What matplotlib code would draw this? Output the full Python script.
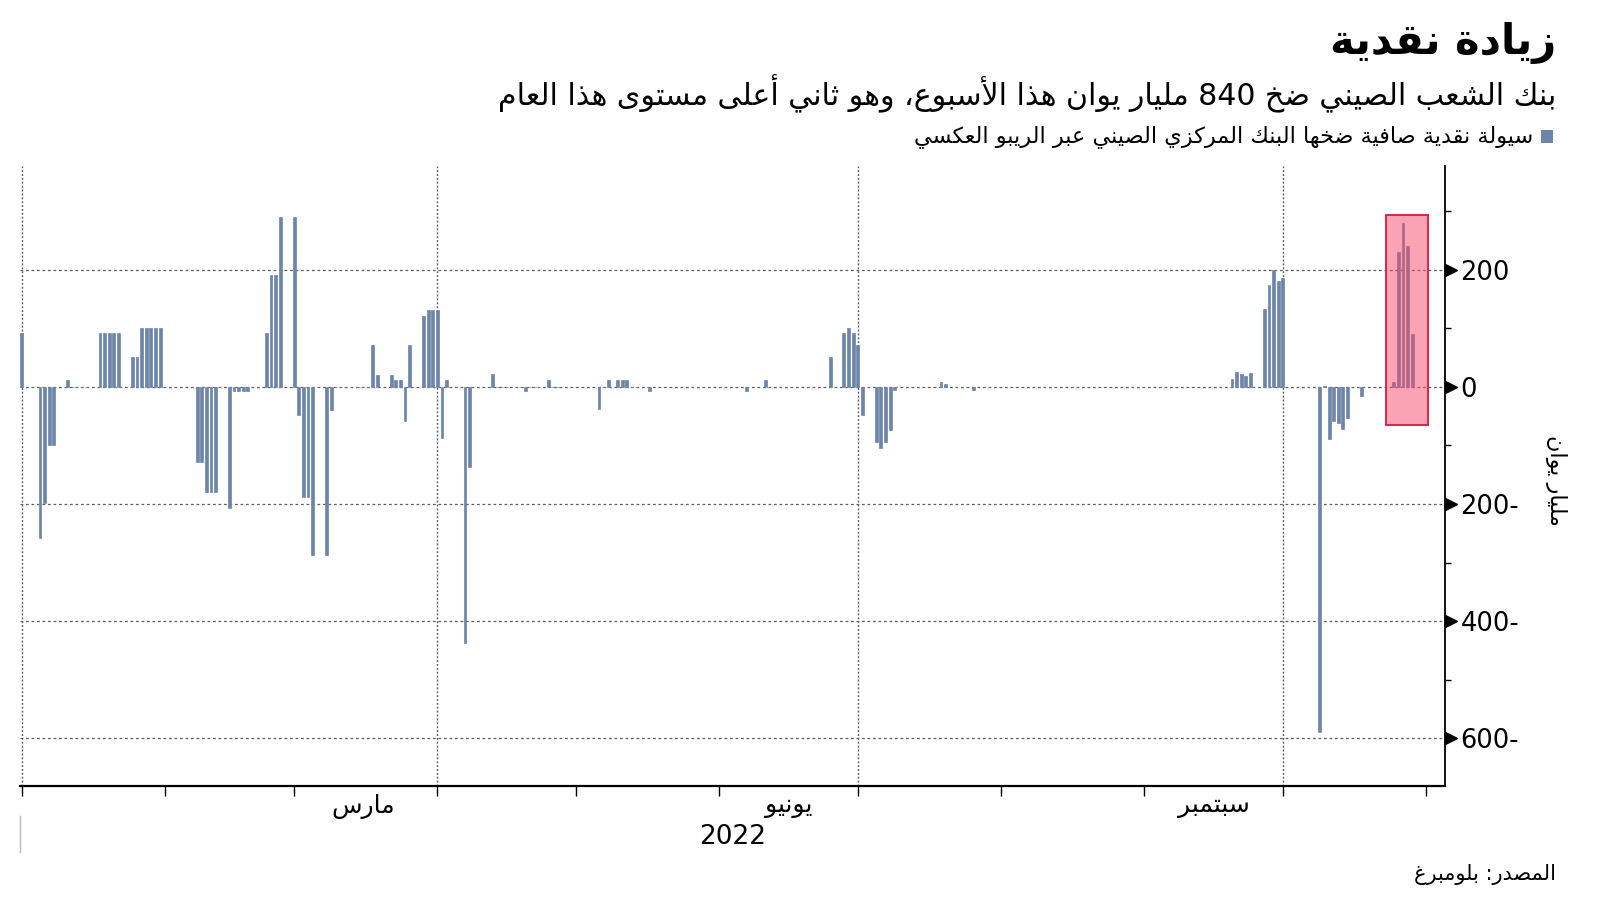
import re
import matplotlib
matplotlib.use("Agg")
import matplotlib.pyplot as plt
import matplotlib.dates as mdates
import matplotlib.transforms as mtransforms
from matplotlib.patches import Rectangle
import pandas as pd

# net liquidity injected via reverse repo, bn yuan, per working day
dates = [
    "2021-12-31", "2022-01-04", "2022-01-05", "2022-01-06", "2022-01-07",
    "2022-01-10", "2022-01-11", "2022-01-12", "2022-01-13", "2022-01-14",
    "2022-01-17", "2022-01-18", "2022-01-19", "2022-01-20", "2022-01-21",
    "2022-01-24", "2022-01-25", "2022-01-26", "2022-01-27", "2022-01-28",
    "2022-01-29", "2022-01-30", "2022-02-07", "2022-02-08", "2022-02-09",
    "2022-02-10", "2022-02-11", "2022-02-14", "2022-02-15", "2022-02-16",
    "2022-02-17", "2022-02-18", "2022-02-22", "2022-02-23", "2022-02-24",
    "2022-02-25", "2022-02-28", "2022-03-01", "2022-03-02", "2022-03-03",
    "2022-03-04", "2022-03-07", "2022-03-08", "2022-03-09", "2022-03-10",
    "2022-03-11", "2022-03-14", "2022-03-15", "2022-03-16", "2022-03-17",
    "2022-03-18", "2022-03-21", "2022-03-22", "2022-03-23", "2022-03-24",
    "2022-03-25", "2022-03-28", "2022-03-29", "2022-03-30", "2022-03-31",
    "2022-04-01", "2022-04-02", "2022-04-06", "2022-04-07", "2022-04-12",
    "2022-04-13", "2022-04-14", "2022-04-15", "2022-04-18", "2022-04-19",
    "2022-04-20", "2022-04-21", "2022-04-22", "2022-04-24", "2022-04-25",
    "2022-04-26", "2022-05-05", "2022-05-06", "2022-05-07", "2022-05-09",
    "2022-05-10", "2022-05-11", "2022-05-12", "2022-05-13", "2022-05-16",
    "2022-06-06", "2022-06-10", "2022-06-24", "2022-06-27", "2022-06-28",
    "2022-06-29", "2022-06-30", "2022-07-01", "2022-07-04", "2022-07-05",
    "2022-07-06", "2022-07-07", "2022-07-08", "2022-07-18", "2022-07-19",
    "2022-07-25", "2022-09-19", "2022-09-20", "2022-09-21", "2022-09-22",
    "2022-09-23", "2022-09-26", "2022-09-27", "2022-09-28", "2022-09-29",
    "2022-09-30", "2022-10-08", "2022-10-09", "2022-10-10", "2022-10-11",
    "2022-10-12", "2022-10-13", "2022-10-14", "2022-10-17", "2022-10-24",
    "2022-10-25", "2022-10-26", "2022-10-27", "2022-10-28",
]
values = [
    92, -258, -199, -99, -99,
    12, 0, 0, 0, 0,
    91, 91, 91, 91, 91,
    51, 51, 100, 100, 100,
    100, 100, -128, -128, -179,
    -179, -179, -207, -8, -8,
    -8, -8, 91, 191, 191,
    290, 290, -48, -188, -188,
    -287, -287, -40, 0, 0,
    0, 0, 0, 0, 71,
    20, 20, 12, 12, -58,
    71, 120, 131, 131, 131,
    -88, 12, -437, -137, 21,
    0, 0, 0, 0, -7,
    0, 0, 0, 12, 0,
    0, -38, 0, 12, 12,
    12, 12, 0, 0, -7,
    -7, 12, 51, 91, 100,
    91, 71, -48, -94, -105,
    -94, -74, -6, 8, 5,
    -5, 14, 26, 21, 19,
    23, 133, 173, 200, 181,
    185, -590, 2, -89, -58,
    -62, -72, -54, -15, 9,
    230, 280, 240, 90,
]

y_ticks = [-600, -400, -200, 0, 200]
y_tick_labels = ["600-", "400-", "200-", "0", "200"]
y_minor_ticks = [-500, -300, -100, 100, 300]

month_ends = ["2021-12-31", "2022-01-31", "2022-02-28", "2022-03-31", "2022-04-30",
              "2022-05-31", "2022-06-30", "2022-07-31", "2022-08-31", "2022-09-30",
              "2022-10-31"]
grid_dates = ["2021-12-31", "2022-03-31", "2022-06-30", "2022-09-30"]
month_labels = ["مارس", "يونيو", "سبتمبر"]
month_label_dates = ["2022-03-15", "2022-06-15", "2022-09-15"]
year_label = "2022"

title = "زيادة نقدية"
subtitle = "بنك الشعب الصيني ضخ 840 مليار يوان هذا الأسبوع، وهو ثاني أعلى مستوى هذا العام"
legend_label = "سيولة نقدية صافية ضخها البنك المركزي الصيني عبر الريبو العكسي"
y_label = "مليار يوان"
source = "المصدر: بلومبرغ"

BAR_COLOR = "#6e85aa"
GRID_COLOR = "#5f5f5f"

# --- minimal Arabic shaping (matplotlib has no shaping / bidi) ---
DUAL = {'ئ': 0xFE89, 'ب': 0xFE8F, 'ت': 0xFE95, 'ث': 0xFE99, 'ج': 0xFE9D, 'ح': 0xFEA1,
        'خ': 0xFEA5, 'س': 0xFEB1, 'ش': 0xFEB5, 'ص': 0xFEB9, 'ض': 0xFEBD, 'ط': 0xFEC1,
        'ظ': 0xFEC5, 'ع': 0xFEC9, 'غ': 0xFECD, 'ف': 0xFED1, 'ق': 0xFED5, 'ك': 0xFED9,
        'ل': 0xFEDD, 'م': 0xFEE1, 'ن': 0xFEE5, 'ه': 0xFEE9, 'ي': 0xFEF1}
RIGHT = {'آ': 0xFE81, 'أ': 0xFE83, 'ؤ': 0xFE85, 'إ': 0xFE87, 'ا': 0xFE8D, 'ة': 0xFE93,
         'د': 0xFEA9, 'ذ': 0xFEAB, 'ر': 0xFEAD, 'ز': 0xFEAF, 'و': 0xFEED, 'ى': 0xFEEF}
LAM_ALEF = {'آ': 0xFEF5, 'أ': 0xFEF7, 'إ': 0xFEF9, 'ا': 0xFEFB}


def ar(text):
    tokens = []
    i = 0
    while i < len(text):
        c = text[i]
        if c == 'ل' and i + 1 < len(text) and text[i + 1] in LAM_ALEF:
            tokens.append(('LA', LAM_ALEF[text[i + 1]]))
            i += 2
            continue
        if c in DUAL:
            tokens.append(('D', DUAL[c]))
        elif c in RIGHT:
            tokens.append(('R', RIGHT[c]))
        else:
            tokens.append(('N', c))
        i += 1
    out = []
    for k, (kind, base) in enumerate(tokens):
        if kind == 'N':
            out.append(base)
            continue
        prev_j = k > 0 and tokens[k - 1][0] == 'D'
        next_j = kind == 'D' and k + 1 < len(tokens) and tokens[k + 1][0] != 'N'
        if kind == 'D':
            off = (1 if prev_j else 0) + (2 if next_j else 0)
        else:
            off = 1 if prev_j else 0
        out.append(chr(base + off))
    visual = ''.join(out)[::-1]
    return re.sub(r'[0-9]+', lambda m: m.group()[::-1], visual)


plt.rcParams['font.family'] = ['DejaVu Sans']

x = mdates.date2num(pd.to_datetime(dates))
jan1 = mdates.date2num(pd.Timestamp("2022-01-01"))

fig = plt.figure(figsize=(16, 9.01), dpi=100)
ax = fig.add_axes([0.01275, 0.128, 0.8904, 0.6878])

ax.bar(x, values, width=0.62, color=BAR_COLOR, edgecolor=BAR_COLOR,
       linewidth=0.5, zorder=3)

ax.set_xlim(jan1 - 1.24, jan1 + 307.1)
ax.set_ylim(-681, 377)

# grid
for yv in y_ticks:
    ax.axhline(yv, color=GRID_COLOR, lw=0.9, ls=(0, (2.2, 2.2)), zorder=1)
for d in grid_dates:
    ax.axvline(mdates.date2num(pd.Timestamp(d)), color=GRID_COLOR, lw=1.0,
               ls=(0, (1.4, 1.4)), zorder=1)

# highlight box round this week's injections
box_x0 = mdates.date2num(pd.Timestamp("2022-10-24")) - 1.7
box_x1 = mdates.date2num(pd.Timestamp("2022-10-28")) + 3.4
ax.add_patch(Rectangle((box_x0, -65), box_x1 - box_x0, 358, facecolor="#f5486a",
                       alpha=0.5, edgecolor="none", zorder=4))
ax.add_patch(Rectangle((box_x0, -65), box_x1 - box_x0, 358, facecolor="none",
                       edgecolor="#d8264b", lw=1.4, zorder=5))

# spines
for s in ["top", "left"]:
    ax.spines[s].set_visible(False)
ax.spines["right"].set_linewidth(1.3)
ax.spines["bottom"].set_linewidth(1.6)

# y axis on the right
ax.yaxis.tick_right()
ax.set_yticks(y_ticks)
ax.set_yticklabels(y_tick_labels)
ax.set_yticks(y_minor_ticks, minor=True)
ax.tick_params(axis="y", which="major", length=0, pad=11, labelsize=18.5)
ax.tick_params(axis="y", which="minor", length=4, width=1, direction="out")
tri = mtransforms.blended_transform_factory(ax.transAxes, ax.transData)
ax.plot([1.0039] * len(y_ticks), y_ticks, ls="none", marker=">", ms=8,
        color="black", transform=tri, clip_on=False, zorder=6)

# x axis: ticks at month ends, labels mid-month
ax.set_xticks(mdates.date2num(pd.to_datetime(month_ends)))
ax.set_xticklabels([])
ax.tick_params(axis="x", which="major", length=7, width=1, direction="out")

xt = mtransforms.blended_transform_factory(ax.transData, fig.transFigure)
for lab, d in zip(month_labels, month_label_dates):
    ax.text(mdates.date2num(pd.Timestamp(d)), 0.1054, ar(lab), transform=xt,
            ha="center", va="center", fontsize=18)
fig.text(0.01275 + 0.8904 / 2, 0.071, year_label, ha="center", va="center", fontsize=19)
fig.add_artist(plt.Line2D([0.01275, 0.01275], [1 - 852 / 901, 1 - 816 / 901],
                          color="#bbbbbb", lw=1))

fig.text(0.9725, 0.467, ar(y_label), rotation=270, ha="center", va="center", fontsize=16)

# title block
fig.text(0.9725, 0.952, ar(title), ha="right", va="center", fontsize=30, fontweight="bold")
fig.text(0.9725, 0.8957, ar(subtitle), ha="right", va="center", fontsize=21.6)
fig.add_artist(Rectangle((0.9631, 0.8413), 12 / 1600, 13 / 901, facecolor=BAR_COLOR,
                         edgecolor="none", transform=fig.transFigure))
fig.text(0.958, 0.849, ar(legend_label), ha="right", va="center", fontsize=16.1)
fig.text(0.9725, 0.0289, ar(source), ha="right", va="center", fontsize=15)

fig.savefig("out.png", dpi=100)
